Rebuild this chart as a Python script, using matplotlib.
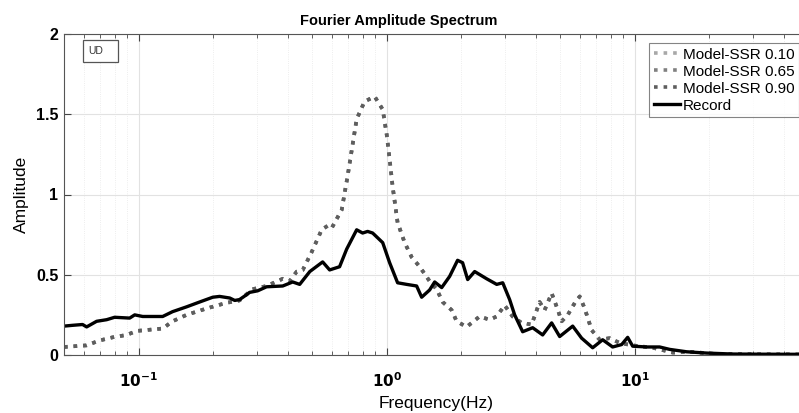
import matplotlib
matplotlib.use("Agg")
import matplotlib.pyplot as plt
from matplotlib.patches import Rectangle
from matplotlib.ticker import LogLocator, NullFormatter, FixedLocator

plt.rcParams['font.family'] = ['Liberation Sans', 'DejaVu Sans']

# Record spectrum (Hz, amplitude)
record_freq = [0.050, 0.0542, 0.0594, 0.0617, 0.0677, 0.0743, 0.080, 0.092, 0.0964, 0.1038,
               0.125, 0.137, 0.156, 0.176, 0.199, 0.212, 0.233, 0.244, 0.255, 0.272,
               0.280, 0.302, 0.328, 0.381, 0.418, 0.446, 0.490, 0.552, 0.589, 0.646,
               0.690, 0.757, 0.800, 0.838, 0.878, 0.964, 1.028, 1.107, 1.204, 1.321,
               1.384, 1.490, 1.562, 1.667, 1.795, 1.932, 2.024, 2.122, 2.264, 2.530,
               2.778, 2.938, 3.133, 3.282, 3.535, 3.879, 4.256, 4.627, 4.985, 5.625,
               6.112, 6.771, 7.430, 8.151, 8.865, 9.372, 9.818, 11.18, 12.61, 13.84,
               16.21, 19.51, 24.84, 31.9, 50.0]
record_amp = [0.18, 0.185, 0.19, 0.175, 0.21, 0.22, 0.235, 0.23, 0.25, 0.24,
              0.24, 0.27, 0.30, 0.33, 0.36, 0.365, 0.355, 0.34, 0.345, 0.375,
              0.39, 0.40, 0.425, 0.43, 0.455, 0.44, 0.52, 0.58, 0.53, 0.55,
              0.66, 0.78, 0.76, 0.77, 0.76, 0.70, 0.575, 0.45, 0.44, 0.43,
              0.36, 0.405, 0.455, 0.42, 0.49, 0.59, 0.575, 0.47, 0.52, 0.475,
              0.44, 0.45, 0.345, 0.25, 0.145, 0.17, 0.125, 0.20, 0.115, 0.18,
              0.105, 0.045, 0.095, 0.05, 0.065, 0.11, 0.055, 0.05, 0.05, 0.035,
              0.02, 0.012, 0.006, 0.005, 0.004]

# Model spectra (SSR 0.10 / 0.65 / 0.90 coincide)
model_freq = [0.050, 0.0617, 0.0694, 0.0785, 0.0895, 0.0982, 0.125, 0.137, 0.156, 0.188,
              0.226, 0.255, 0.288, 0.328, 0.381, 0.406, 0.434, 0.459, 0.498, 0.547,
              0.578, 0.600, 0.659, 0.696, 0.757, 0.815, 0.895, 0.937, 0.964, 1.000,
              1.028, 1.057, 1.107, 1.182, 1.261, 1.359, 1.490, 1.590, 1.683, 1.828,
              1.915, 2.101, 2.370, 2.599, 2.778, 2.989, 3.220, 3.500, 3.843, 4.138,
              4.336, 4.627, 4.850, 5.081, 5.374, 5.737, 6.004, 6.289, 6.709, 7.229,
              7.932, 8.704, 9.818, 11.85, 14.26, 16.72, 21.4, 31.9, 50.0]
model_amp = [0.05, 0.06, 0.09, 0.11, 0.125, 0.15, 0.165, 0.21, 0.25, 0.29,
             0.325, 0.34, 0.41, 0.43, 0.475, 0.46, 0.52, 0.53, 0.64, 0.78,
             0.805, 0.79, 0.905, 1.115, 1.47, 1.58, 1.61, 1.56, 1.53, 1.375,
             1.22, 1.05, 0.825, 0.70, 0.61, 0.55, 0.46, 0.41, 0.33, 0.28,
             0.21, 0.175, 0.24, 0.22, 0.24, 0.31, 0.24, 0.20, 0.19, 0.33,
             0.28, 0.385, 0.30, 0.21, 0.25, 0.325, 0.365, 0.29, 0.155, 0.095,
             0.105, 0.075, 0.06, 0.045, 0.015, 0.02, 0.006, 0.004, 0.003]

model_010 = model_amp
model_065 = model_amp
model_090 = model_amp

y_ticks = [0, 0.5, 1, 1.5, 2]
y_tick_labels = ['0', '0.5', '1', '1.5', '2']
x_ticks = [0.1, 1, 10]
x_tick_labels = [r'$\mathbf{10^{-1}}$', r'$\mathbf{10^{0}}$', r'$\mathbf{10^{1}}$']

fig = plt.figure(figsize=(7.99, 4.13), dpi=100)
ax = fig.add_axes([64 / 799, 58 / 413, 744 / 799, 321 / 413])

ax.plot(model_freq, model_010, ':', color='#a8a8a8', lw=2.6, label='Model-SSR 0.10')
ax.plot(model_freq, model_065, ':', color='#808080', lw=2.6, label='Model-SSR 0.65')
ax.plot(model_freq, model_090, ':', color='#5e5e5e', lw=2.6, label='Model-SSR 0.90')
ax.plot(record_freq, record_amp, '-', color='black', lw=2.4, label='Record')

ax.set_xscale('log')
ax.set_xlim(0.05, 50)
ax.set_ylim(0, 2)
ax.yaxis.set_major_locator(FixedLocator(y_ticks))
ax.set_yticklabels(y_tick_labels)
ax.xaxis.set_major_locator(FixedLocator(x_ticks))
ax.set_xticklabels(x_tick_labels)
ax.xaxis.set_minor_locator(LogLocator(base=10, subs=range(2, 10), numticks=20))
ax.xaxis.set_minor_formatter(NullFormatter())

ax.grid(True, which='major', color='#e2e2e2', lw=0.8)
ax.grid(True, which='minor', axis='x', color='#e8e8e8', lw=0.6, ls=':')
ax.set_axisbelow(True)

ax.tick_params(which='both', direction='in', top=True, right=True, color='#444444')
ax.tick_params(which='major', length=5)
ax.tick_params(which='minor', length=3)
ax.tick_params(axis='x', which='major', labelsize=11, pad=12)
ax.tick_params(axis='y', which='major', labelsize=11.5, pad=4)
for lab in ax.get_yticklabels():
    lab.set_fontweight('bold')
for s in ax.spines.values():
    s.set_color('#555555')
    s.set_linewidth(0.8)

fig.text(399 / 799, 1 - 25 / 413, 'Fourier Amplitude Spectrum',
         fontsize=10.5, fontweight='bold', ha='center', va='baseline')
ax.set_xlabel('Frequency(Hz)', fontsize=12.5, labelpad=4)
ax.set_ylabel('Amplitude', fontsize=12.5)
ax.yaxis.set_label_coords((29 - 64) / 744, 0.5)

# small annotation box
fig.patches.append(Rectangle((83 / 799, 1 - 62 / 413), 35 / 799, 22 / 413,
                             transform=fig.transFigure, fc='white', ec='#555555', lw=0.9,
                             zorder=5))
fig.text(88 / 799, 1 - 51 / 413, 'UD', fontsize=7.5, color='#333333', va='center', ha='left',
         zorder=6)

leg = ax.legend(loc='upper left', bbox_to_anchor=(649 / 799, 1 - 43 / 413),
                bbox_transform=fig.transFigure, fontsize=11, frameon=True, fancybox=False,
                edgecolor='#666666', handlelength=1.75, handletextpad=0.15,
                borderpad=0.3, labelspacing=0.2, borderaxespad=0)
leg.get_frame().set_linewidth(0.8)

fig.savefig('out.png', dpi=100)
